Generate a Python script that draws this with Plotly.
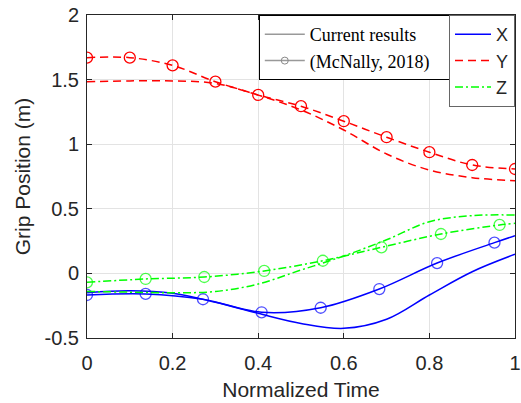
import plotly.graph_objects as go

# Current results (no markers)
t_cur = [0, 0.1, 0.2, 0.3, 0.4, 0.5, 0.6, 0.7, 0.8, 0.9, 1.0]
x_cur = [-0.149, -0.134, -0.154, -0.224, -0.309, -0.387, -0.425, -0.355, -0.167, 0.013, 0.148]
y_cur = [1.484, 1.49, 1.49, 1.47, 1.38, 1.265, 1.11, 0.924, 0.80, 0.741, 0.717]
z_cur = [-0.14, -0.145, -0.15, -0.14, -0.082, 0.026, 0.135, 0.26, 0.40, 0.447, 0.452]

# McNally, 2018 (with circle markers)
t_x_ref = [0, 0.137, 0.271, 0.408, 0.546, 0.683, 0.818, 0.952, 1.0]
x_ref = [-0.167, -0.159, -0.200, -0.301, -0.266, -0.121, 0.080, 0.238, 0.292]
t_y_ref = [0, 0.1, 0.2, 0.3, 0.4, 0.5, 0.6, 0.7, 0.8, 0.9, 1.0]
y_ref = [1.67, 1.67, 1.61, 1.484, 1.381, 1.294, 1.178, 1.054, 0.938, 0.839, 0.808]
t_z_ref = [0, 0.137, 0.274, 0.414, 0.551, 0.688, 0.827, 0.964, 1.0]
z_ref = [-0.069, -0.043, -0.028, 0.019, 0.098, 0.202, 0.305, 0.375, 0.388]

BLUE, RED, GREEN = "#0000FF", "#FF0000", "#00FF00"
RED_DASH = "8px,5px"
GREEN_DASH = "8px,3px,2px,3px"
LW = 1.5
MS = 11
PAD = "\u00a0" * 4

fig = go.Figure()

def msizes(n, last_marker=True):
    s = [MS] * n
    if not last_marker:
        s[-1] = 0
    return s

# reference curves
fig.add_trace(go.Scatter(x=t_x_ref, y=x_ref, mode="lines+markers", line=dict(color=BLUE, width=LW, shape="spline"),
                         marker=dict(symbol="circle-open", size=msizes(len(t_x_ref), False), color=BLUE, line=dict(width=1.3)),
                         showlegend=False))
fig.add_trace(go.Scatter(x=t_y_ref, y=y_ref, mode="lines+markers", line=dict(color=RED, width=LW, dash=RED_DASH, shape="spline"),
                         marker=dict(symbol="circle-open", size=MS, color=RED, line=dict(width=1.3)),
                         showlegend=False))
fig.add_trace(go.Scatter(x=t_z_ref, y=z_ref, mode="lines+markers", line=dict(color=GREEN, width=LW, dash=GREEN_DASH, shape="spline"),
                         marker=dict(symbol="circle-open", size=msizes(len(t_z_ref), False), color=GREEN, line=dict(width=1.3)),
                         showlegend=False))

# current curves (also used for XYZ legend)
fig.add_trace(go.Scatter(x=t_cur, y=x_cur, mode="lines", name="X", line=dict(color=BLUE, width=LW, shape="spline"),
                         legend="legend2"))
fig.add_trace(go.Scatter(x=t_cur, y=y_cur, mode="lines", name="Y", line=dict(color=RED, width=LW, dash=RED_DASH, shape="spline"),
                         legend="legend2"))
fig.add_trace(go.Scatter(x=t_cur, y=z_cur, mode="lines", name="Z", line=dict(color=GREEN, width=LW, dash=GREEN_DASH, shape="spline"),
                         legend="legend2"))

# style legend entries
fig.add_trace(go.Scatter(x=[None], y=[None], mode="lines", name="Current results" + PAD,
                         line=dict(color="#999999", width=1.5), legend="legend"))
fig.add_trace(go.Scatter(x=[None], y=[None], mode="lines+markers", name="(McNally, 2018)" + PAD,
                         line=dict(color="#999999", width=1.5),
                         marker=dict(symbol="circle-open", size=7, color="#888888"), legend="legend"))

axis_common = dict(
    showline=True, linecolor="#262626", linewidth=1, mirror="ticks",
    ticks="inside", ticklen=5, tickcolor="#262626",
    showgrid=True, gridcolor="#E3E3E3", gridwidth=1,
    zeroline=False, automargin=False,
    tickfont=dict(family="Liberation Sans, Arial", size=20, color="#262626"),
    title_font=dict(family="Liberation Sans, Arial", size=21, color="#262626"),
)

fig.update_layout(
    width=521, height=403,
    margin=dict(l=87, r=6, t=15, b=65),
    paper_bgcolor="white", plot_bgcolor="white",
    xaxis=dict(range=[0, 1], tickvals=[0, 0.2, 0.4, 0.6, 0.8, 1], ticktext=["0", "0.2", "0.4", "0.6", "0.8", "1"],
               ticklabelstandoff=7,
               title=dict(text="Normalized Time", standoff=9), **axis_common),
    yaxis=dict(range=[-0.5, 2], tickvals=[-0.5, 0, 0.5, 1, 1.5, 2], ticktext=["-0.5", "0", "0.5", "1", "1.5", "2"],
               ticklabelstandoff=3,
               title=dict(text="Grip Position (m)", standoff=8), **axis_common),
    legend=dict(x=0.857, y=1.0, xanchor="right", yanchor="top", bgcolor="white",
                bordercolor="#000000", borderwidth=1, itemwidth=40,
                font=dict(family="Liberation Serif, Times New Roman", size=18, color="#000000")),
    legend2=dict(x=1.0, y=1.0, xanchor="right", yanchor="top", bgcolor="white",
                 bordercolor="#666666", borderwidth=1, itemwidth=36,
                 font=dict(family="Liberation Sans, Arial", size=18, color="#262626")),
)

fig.write_html("out.html")
